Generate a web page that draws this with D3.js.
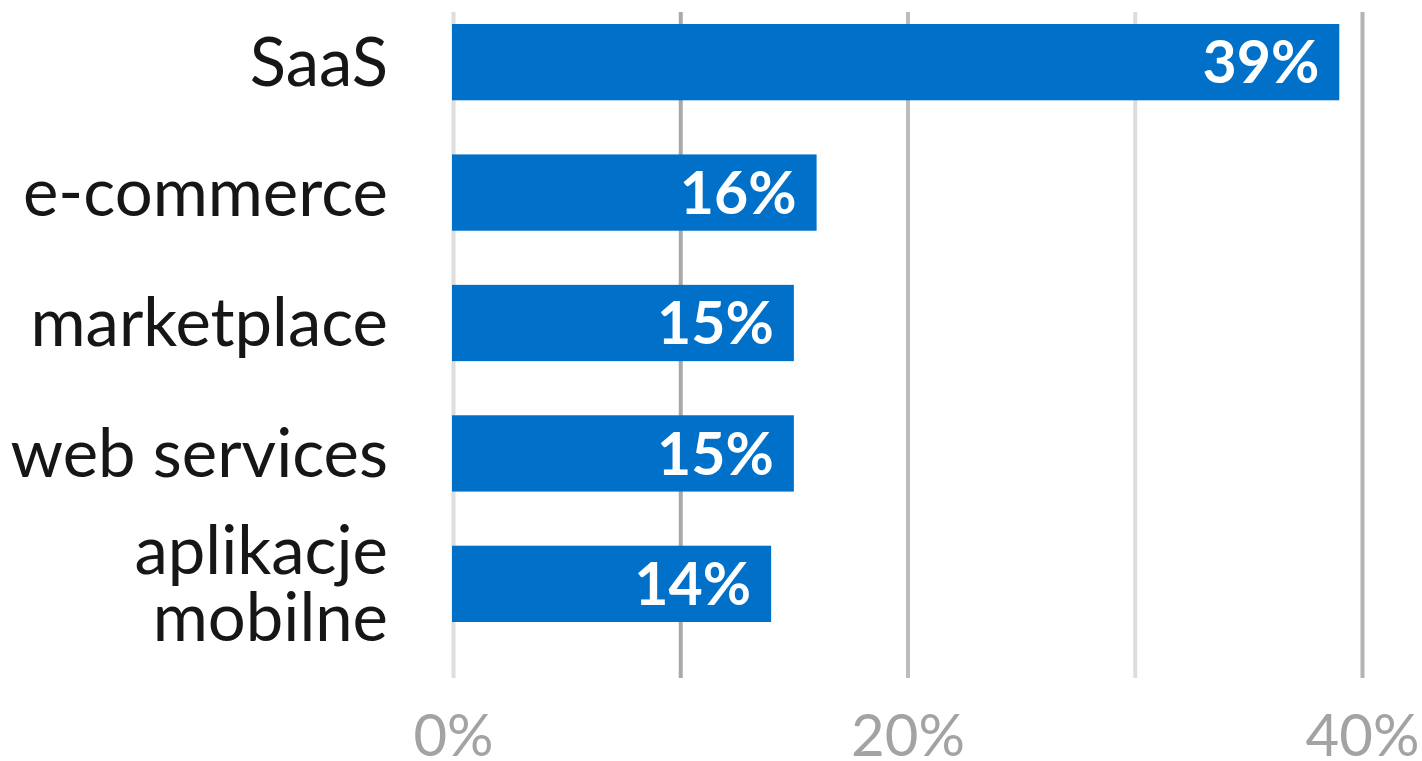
<!DOCTYPE html>
<html>
<head>
<meta charset="utf-8">
<script src="https://cdn.jsdelivr.net/npm/d3@7"></script>
<style>
  body { margin: 0; background: #fff; }
  svg { display: block; font-family: Lato, "Open Sans", sans-serif; }
</style>
</head>
<body>
<div id="chart"></div>
<script>
// data
var categories = ["SaaS", "e-commerce", "marketplace", "web services", "aplikacje\nmobilne"];
var values = [39, 16, 15, 15, 14];
var gridTicks = [0, 10, 20, 30, 40];
var axisTicks = [0, 20, 40];

var width = 1422, height = 761;
var gridColors = ["#dedede", "#a9a9a9", "#bcbcbc", "#dddddd", "#b4b4b4"];

var svg = d3.select("#chart").append("svg")
  .attr("width", width)
  .attr("height", height);

var x = d3.scaleLinear().domain([0, 40]).range([453, 1362]);
var y = d3.scaleBand()
  .domain(categories)
  .range([12, 634])
  .paddingInner(0.415)
  .paddingOuter(0.092);

// gridlines
var grid = svg.append("g")
  .attr("transform", "translate(0,678)")
  .call(d3.axisTop(x).tickValues(gridTicks).tickSize(666).tickFormat(""));
grid.select(".domain").remove();
grid.selectAll(".tick line")
  .attr("stroke", function (d, i) { return gridColors[i]; })
  .attr("stroke-width", 4);

// bottom axis labels
var axis = svg.append("g")
  .attr("transform", "translate(0,698)")
  .call(d3.axisBottom(x).tickValues(axisTicks).tickSize(0)
    .tickFormat(function (d) { return d + "%"; }));
axis.select(".domain").remove();
axis.selectAll(".tick text")
  .attr("y", 0)
  .attr("dy", "58px")
  .attr("fill", "#a3a3a3")
  .style("font-size", "58px")
  .style("font-family", "Lato, sans-serif");

// bars
var rows = svg.append("g").selectAll("g")
  .data(values)
  .enter().append("g");

rows.append("rect")
  .attr("x", x(0) - 1)
  .attr("y", function (d, i) { return y(categories[i]); })
  .attr("width", function (d) { return x(d) - x(0) + 1; })
  .attr("height", y.bandwidth())
  .attr("fill", "#0070c8");

rows.append("text")
  .attr("x", function (d) { return x(d) - 20; })
  .attr("y", function (d, i) { return y(categories[i]) + y.bandwidth() / 2; })
  .attr("dy", "0.36em")
  .attr("text-anchor", "end")
  .attr("fill", "#fff")
  .style("font-size", "59px")
  .style("font-weight", "bold")
  .text(function (d) { return d + "%"; });

// category labels
var labels = svg.append("g").selectAll("text")
  .data(categories)
  .enter().append("text")
  .attr("x", 388)
  .attr("y", function (d) { return y(d) + y.bandwidth() / 2; })
  .attr("text-anchor", "end")
  .attr("fill", "#161616")
  .style("font-size", "67px");

labels.each(function (d) {
  var lines = d.split("\n");
  var t = d3.select(this);
  lines.forEach(function (line, j) {
    t.append("tspan")
      .attr("x", 388)
      .attr("dy", j === 0 ? (0.35 - (lines.length - 1) * 0.5) + "em" : "1em")
      .text(line);
  });
});
</script>
</body>
</html>
